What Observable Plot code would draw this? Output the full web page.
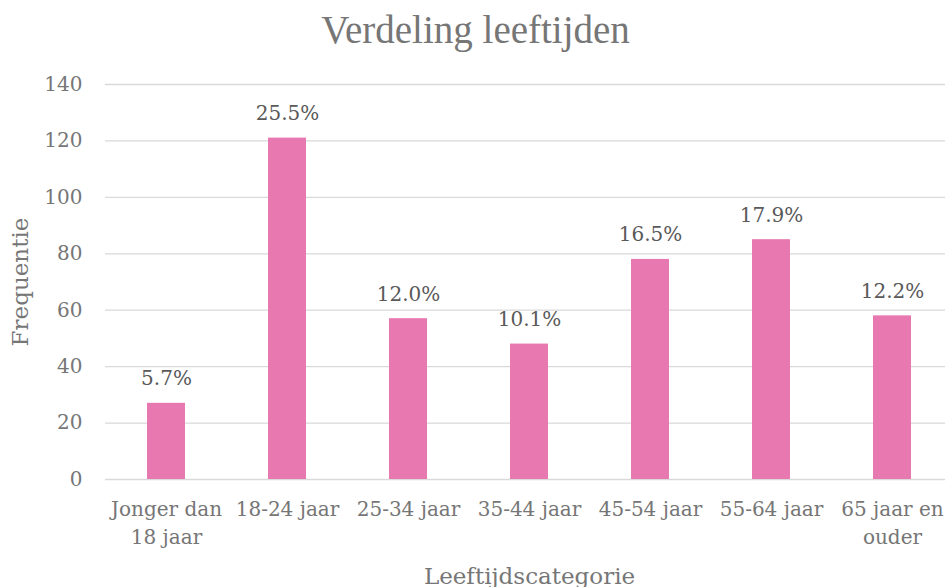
<!DOCTYPE html>
<html>
<head>
<meta charset="utf-8">
<script src="https://cdn.jsdelivr.net/npm/d3@7"></script>
<script src="https://cdn.jsdelivr.net/npm/@observablehq/plot@0.6"></script>
<style>
  html, body { margin: 0; padding: 0; background: #fff; overflow: hidden; }
  #title { height: 68px; width: 945px; text-align: center; font-family: "Liberation Serif", serif;
           font-size: 39px; line-height: 60px; color: #767676; padding-left: 6px; box-sizing: border-box; }
  #chart svg { display: block; overflow: visible; }
  #chart g[aria-label="x-axis label"] text, #chart g[aria-label="y-axis label"] text { font-size: 23px; }
</style>
</head>
<body>
<div id="title">Verdeling leeftijden</div>
<div id="chart"></div>
<script>
const categories = ["Jonger dan 18 jaar", "18-24 jaar", "25-34 jaar", "35-44 jaar", "45-54 jaar", "55-64 jaar", "65 jaar en ouder"];
const tickLabels = ["Jonger dan\n18 jaar", "18-24 jaar", "25-34 jaar", "35-44 jaar", "45-54 jaar", "55-64 jaar", "65 jaar en\nouder"];
const frequencies = [27, 121, 57, 48, 78, 85, 58];
const percentLabels = ["5.7%", "25.5%", "12.0%", "10.1%", "16.5%", "17.9%", "12.2%"];
const yTicks = [0, 20, 40, 60, 80, 100, 120, 140];

const data = categories.map((c, i) => ({category: c, value: frequencies[i], label: percentLabels[i]}));
const labelMap = new Map(categories.map((c, i) => [c, tickLabels[i]]));

const chart = Plot.plot({
  width: 945,
  height: 519,
  marginTop: 16,
  marginBottom: 108,
  marginLeft: 105,
  marginRight: -8,
  style: {fontFamily: "DejaVu Serif", fontSize: "20px", color: "#767676", background: "#fff"},
  x: {domain: categories, paddingInner: 0.686, paddingOuter: 0.343},
  y: {domain: [0, 140]},
  marks: [
    Plot.ruleY(yTicks, {stroke: "#d9d9d9", strokeWidth: 1.3}),
    Plot.barY(data, {x: "category", y: "value", fill: "#e878b0"}),
    Plot.text(data, {x: "category", y: "value", text: "label", lineAnchor: "bottom", dy: -18, fill: "#595959"}),
    Plot.axisX({tickSize: 0, tickPadding: 17, tickFormat: d => labelMap.get(d), lineHeight: 1.4,
                label: "Leeftijdscategorie", labelAnchor: "center", labelArrow: "none", labelOffset: 104}),
    Plot.axisY({ticks: yTicks, tickSize: 0, tickPadding: 23,
                label: "Frequentie", labelAnchor: "center", labelArrow: "none", labelOffset: 94})
  ]
});
document.getElementById("chart").appendChild(chart);
</script>
</body>
</html>
